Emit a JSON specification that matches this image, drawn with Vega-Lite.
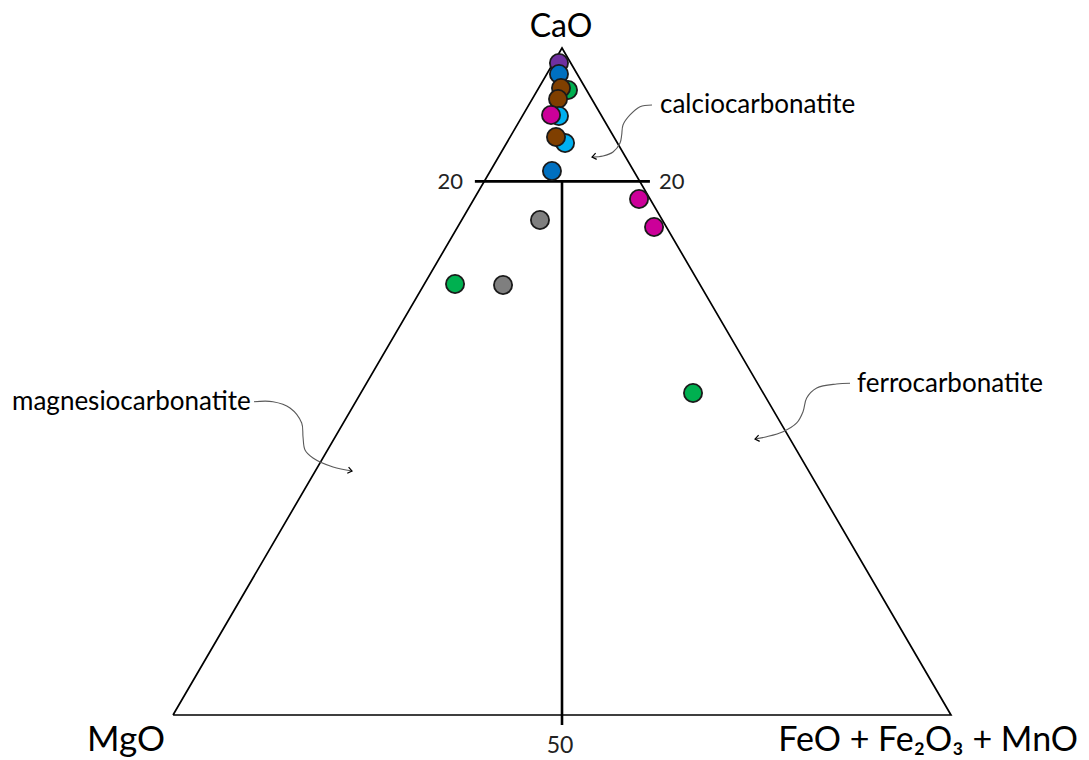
{
  "$schema": "https://vega.github.io/schema/vega-lite/v6.json",
  "width": 1089,
  "height": 760,
  "autosize": {"type": "fit", "contains": "padding"},
  "padding": 0,
  "background": "white",
  "config": {"view": {"stroke": null}},
  "datasets": {
    "samples": [
      {"group": "A", "X": 49.61, "Y": 97.75},
      {"group": "B", "X": 49.61, "Y": 96.10},
      {"group": "C", "X": 50.77, "Y": 93.70},
      {"group": "D", "X": 49.87, "Y": 94.00},
      {"group": "D", "X": 49.49, "Y": 92.35},
      {"group": "E", "X": 49.61, "Y": 89.81},
      {"group": "F", "X": 48.59, "Y": 89.96},
      {"group": "E", "X": 50.39, "Y": 85.75},
      {"group": "D", "X": 49.23, "Y": 86.66},
      {"group": "B", "X": 48.71, "Y": 81.56},
      {"group": "F", "X": 59.90, "Y": 77.36},
      {"group": "F", "X": 61.83, "Y": 73.16},
      {"group": "G", "X": 47.17, "Y": 74.21},
      {"group": "G", "X": 42.42, "Y": 64.47},
      {"group": "C", "X": 36.25, "Y": 64.62},
      {"group": "C", "X": 66.84, "Y": 48.28}
    ],
    "triangle": [
      {"i": 0, "X": 0, "Y": 0},
      {"i": 1, "X": 50, "Y": 100},
      {"i": 2, "X": 100, "Y": 0},
      {"i": 3, "X": 0, "Y": 0}
    ],
    "guides": [
      {"id": "h", "i": 0, "X": 38.8, "Y": 80},
      {"id": "h", "i": 1, "X": 61.3, "Y": 80},
      {"id": "v", "i": 0, "X": 50, "Y": -1.5},
      {"id": "v", "i": 1, "X": 50, "Y": 80}
    ],
    "arrows": [
      {"id": "calcio", "i": 0, "X": 61.57, "Y": 91.45},
      {"id": "calcio", "i": 1, "X": 60.03, "Y": 91.20},
      {"id": "calcio", "i": 2, "X": 58.74, "Y": 89.96},
      {"id": "calcio", "i": 3, "X": 57.84, "Y": 88.46},
      {"id": "calcio", "i": 4, "X": 57.67, "Y": 86.96},
      {"id": "calcio", "i": 5, "X": 57.46, "Y": 85.76},
      {"id": "calcio", "i": 6, "X": 56.56, "Y": 84.41},
      {"id": "calcio", "i": 7, "X": 55.27, "Y": 83.81},
      {"id": "calcio", "i": 8, "X": 53.86, "Y": 83.66},
      {"id": "magnesio", "i": 0, "X": 10.41, "Y": 46.97},
      {"id": "magnesio", "i": 1, "X": 12.85, "Y": 46.97},
      {"id": "magnesio", "i": 2, "X": 15.04, "Y": 46.03},
      {"id": "magnesio", "i": 3, "X": 16.54, "Y": 43.78},
      {"id": "magnesio", "i": 4, "X": 16.71, "Y": 41.68},
      {"id": "magnesio", "i": 5, "X": 16.97, "Y": 39.73},
      {"id": "magnesio", "i": 6, "X": 17.99, "Y": 38.53},
      {"id": "magnesio", "i": 7, "X": 20.57, "Y": 37.18},
      {"id": "magnesio", "i": 8, "X": 23.01, "Y": 36.58},
      {"id": "ferro", "i": 0, "X": 87.02, "Y": 49.73},
      {"id": "ferro", "i": 1, "X": 85.28, "Y": 49.63},
      {"id": "ferro", "i": 2, "X": 82.74, "Y": 49.03},
      {"id": "ferro", "i": 3, "X": 81.45, "Y": 47.53},
      {"id": "ferro", "i": 4, "X": 80.98, "Y": 45.47},
      {"id": "ferro", "i": 5, "X": 80.17, "Y": 43.78},
      {"id": "ferro", "i": 6, "X": 78.41, "Y": 42.47},
      {"id": "ferro", "i": 7, "X": 76.31, "Y": 41.72},
      {"id": "ferro", "i": 8, "X": 74.81, "Y": 41.38}
    ],
    "heads": [
      {"id": "calcio", "X": 53.86, "Y": 83.66},
      {"id": "magnesio", "X": 23.01, "Y": 36.58},
      {"id": "ferro", "X": 74.81, "Y": 41.38}
    ],
    "labels": [
      {"kind": "top", "text": "CaO", "X": 49.87, "Y": 101.65},
      {"kind": "left", "text": "MgO", "X": -1.03, "Y": -5.45},
      {"kind": "right", "text": "FeO + Fe₂O₃ + MnO", "X": 116.32, "Y": -5.4},
      {"kind": "tickR", "text": "20", "X": 37.28, "Y": 78.86},
      {"kind": "tickL", "text": "20", "X": 62.47, "Y": 78.86},
      {"kind": "tickC", "text": "50", "X": 49.74, "Y": -5.7},
      {"kind": "field", "text": "calciocarbonatite", "X": 62.6, "Y": 90.25},
      {"kind": "field", "text": "ferrocarbonatite", "X": 87.92, "Y": 48.43},
      {"kind": "field", "text": "magnesiocarbonatite", "X": -20.69, "Y": 45.73}
    ]
  },
  "encoding": {
    "x": {"field": "X", "type": "quantitative", "scale": {"domain": [-22.24, 117.74], "nice": false, "zero": false}, "axis": null},
    "y": {"field": "Y", "type": "quantitative", "scale": {"domain": [-6.75, 107.2], "nice": false, "zero": false}, "axis": null}
  },
  "layer": [
    {
      "data": {"name": "triangle"},
      "mark": {"type": "line", "color": "black", "strokeWidth": 1.7, "strokeJoin": "miter"},
      "encoding": {"order": {"field": "i", "type": "quantitative"}}
    },
    {
      "data": {"name": "guides"},
      "mark": {"type": "line", "color": "black", "strokeWidth": 2.6},
      "encoding": {"detail": {"field": "id"}, "order": {"field": "i", "type": "quantitative"}}
    },
    {
      "data": {"name": "arrows"},
      "mark": {"type": "line", "color": "#5a5a5a", "strokeWidth": 1.1, "interpolate": "catmull-rom"},
      "encoding": {"detail": {"field": "id"}, "order": {"field": "i", "type": "quantitative"}}
    },
    {
      "data": {"name": "heads"},
      "transform": [{"filter": "datum.id !== 'magnesio'"}],
      "mark": {"type": "point", "shape": "M1,-0.75L0,0L1,0.75", "filled": false, "stroke": "black", "strokeWidth": 1.2, "size": 70, "angle": 350, "opacity": 1}
    },
    {
      "data": {"name": "heads"},
      "transform": [{"filter": "datum.id === 'magnesio'"}],
      "mark": {"type": "point", "shape": "M1,-0.75L0,0L1,0.75", "filled": false, "stroke": "black", "strokeWidth": 1.2, "size": 70, "angle": 192, "opacity": 1}
    },
    {
      "data": {"name": "samples"},
      "mark": {"type": "point", "filled": true, "size": 330, "stroke": "#1a1a1a", "strokeWidth": 1.8, "opacity": 1},
      "encoding": {
        "color": {"field": "group", "type": "nominal", "legend": null,
          "scale": {"domain": ["A", "B", "C", "D", "E", "F", "G"],
                    "range": ["#7030A0", "#0070C0", "#00B050", "#7F3F00", "#00B0F0", "#CC0099", "#7F7F7F"]}}
      }
    },
    {
      "data": {"name": "labels"},
      "transform": [{"filter": "datum.kind === 'top'"}],
      "mark": {"type": "text", "font": "Lato", "fontSize": 32, "align": "center", "baseline": "alphabetic", "color": "black"},
      "encoding": {"text": {"field": "text"}}
    },
    {
      "data": {"name": "labels"},
      "transform": [{"filter": "datum.kind === 'left'"}],
      "mark": {"type": "text", "font": "Lato", "fontSize": 35, "align": "right", "baseline": "alphabetic", "color": "black"},
      "encoding": {"text": {"field": "text"}}
    },
    {
      "data": {"name": "labels"},
      "transform": [{"filter": "datum.kind === 'right'"}],
      "mark": {"type": "text", "font": "Lato", "fontSize": 34, "align": "right", "baseline": "alphabetic", "color": "black"},
      "encoding": {"text": {"field": "text"}}
    },
    {
      "data": {"name": "labels"},
      "transform": [{"filter": "datum.kind === 'tickR'"}],
      "mark": {"type": "text", "font": "Lato", "fontSize": 22, "align": "right", "baseline": "alphabetic", "color": "#222"},
      "encoding": {"text": {"field": "text"}}
    },
    {
      "data": {"name": "labels"},
      "transform": [{"filter": "datum.kind === 'tickL'"}],
      "mark": {"type": "text", "font": "Lato", "fontSize": 22, "align": "left", "baseline": "alphabetic", "color": "#222"},
      "encoding": {"text": {"field": "text"}}
    },
    {
      "data": {"name": "labels"},
      "transform": [{"filter": "datum.kind === 'tickC'"}],
      "mark": {"type": "text", "font": "Lato", "fontSize": 23, "align": "center", "baseline": "alphabetic", "color": "#222"},
      "encoding": {"text": {"field": "text"}}
    },
    {
      "data": {"name": "labels"},
      "transform": [{"filter": "datum.kind === 'field'"}],
      "mark": {"type": "text", "font": "Lato", "fontSize": 26, "align": "left", "baseline": "alphabetic", "color": "black"},
      "encoding": {"text": {"field": "text"}}
    }
  ]
}
